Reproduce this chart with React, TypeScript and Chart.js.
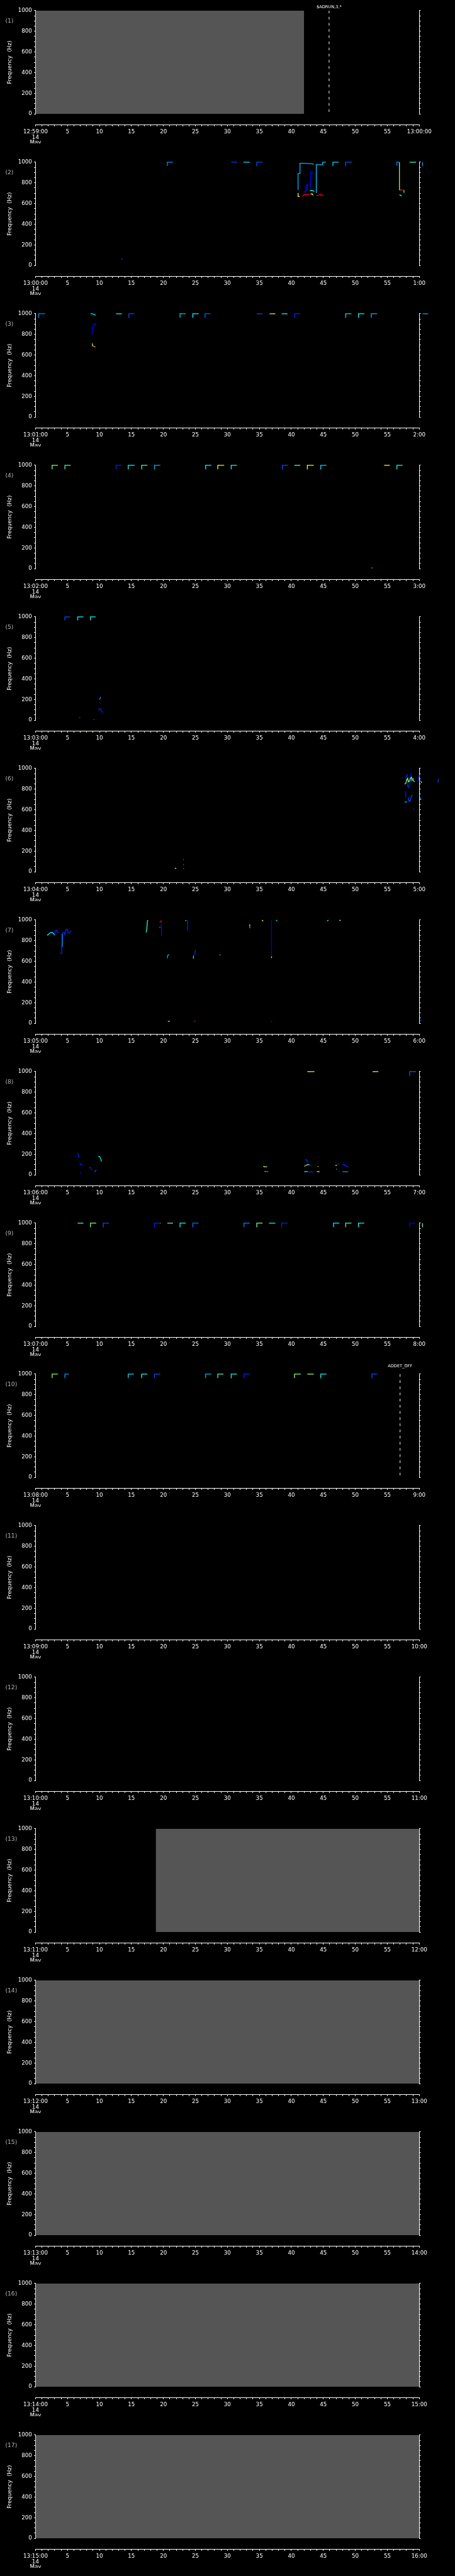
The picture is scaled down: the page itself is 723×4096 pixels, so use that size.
import React, { useEffect, useRef } from 'react';
import { Chart, registerables } from 'chart.js';

Chart.register(...registerables);

// ---------- data ----------
const panelStartLabels = [
  '12:59:00', '13:00:00', '13:01:00', '13:02:00', '13:03:00', '13:04:00', '13:05:00', '13:06:00',
  '13:07:00', '13:08:00', '13:09:00', '13:10:00', '13:11:00', '13:12:00', '13:13:00', '13:14:00', '13:15:00',
];
const panelEndLabels = [
  '13:00:00', '1:00', '2:00', '3:00', '4:00', '5:00', '6:00', '7:00',
  '8:00', '9:00', '10:00', '11:00', '12:00', '13:00', '14:00', '15:00', '16:00',
];
const dateLines = ['14', 'May', '2023'];
const yTitle = 'Frequency  (Hz)';
const freqMin = 0;
const freqMax = 1000;
const secMin = 0;
const secMax = 60;

// [panel, from sec, to sec] : no-data (grey) blocks
const greyBlocks: [number, number, number][] = [
  [1, 0, 42.0],
  [13, 18.8, 60],
  [14, 0, 60],
  [15, 0, 60],
  [16, 0, 60],
  [17, 0, 60],
];

// [panel, sec, label] : event markers
const eventMarks: [number, number, string][] = [
  [1, 45.9, '$ADRUN,3,*'],
  [10, 57.0, 'ADDET_OFF'],
];

// step marks near 1000 Hz : [start sec, end sec, low freq, intensity]
type Step = [number, number, number, number];
const steps2: Step[] = [
  [20.6, 21.5, 964, 0.26], [30.6, 31.5, 1000, 0.18], [32.5, 33.5, 1000, 0.34], [34.6, 35.5, 960, 0.2],
  [46.5, 47.4, 962, 0.34], [48.5, 49.5, 958, 0.2], [58.5, 59.5, 1000, 0.42], [60.5, 61.4, 962, 0.28],
];
const steps3: Step[] = [
  [0.5, 1.5, 961, 0.26], [12.6, 13.5, 1000, 0.38], [14.6, 15.5, 958, 0.2], [22.6, 23.5, 962, 0.32],
  [24.6, 25.5, 962, 0.38], [26.5, 27.4, 958, 0.22], [34.6, 35.5, 1000, 0.2], [36.6, 37.5, 1000, 0.56],
  [38.5, 39.4, 1000, 0.38], [40.5, 41.4, 962, 0.16], [48.5, 49.4, 962, 0.34], [50.5, 51.4, 962, 0.38],
  [52.5, 53.4, 962, 0.3], [60.5, 61.4, 1000, 0.28],
];
const steps4: Step[] = [
  [2.6, 3.5, 962, 0.5], [4.6, 5.5, 962, 0.45], [12.6, 13.5, 958, 0.16], [14.5, 15.5, 962, 0.38],
  [16.6, 17.5, 962, 0.45], [18.6, 19.5, 960, 0.3], [26.6, 27.5, 962, 0.38], [28.5, 29.5, 962, 0.6],
  [30.6, 31.5, 962, 0.38], [38.6, 39.5, 958, 0.2], [40.5, 41.4, 1000, 0.45], [42.5, 43.5, 960, 0.6],
  [44.6, 45.5, 960, 0.34], [54.5, 55.4, 1000, 0.6], [56.5, 57.4, 962, 0.4],
];
const steps5: Step[] = [
  [4.6, 5.4, 967, 0.2], [6.6, 7.5, 967, 0.38], [8.6, 9.4, 967, 0.4],
];
const steps8: Step[] = [
  [42.5, 43.6, 1000, 0.64], [52.7, 53.6, 1000, 0.58], [58.5, 59.5, 958, 0.22],
];
const steps9: Step[] = [
  [6.6, 7.5, 1000, 0.44], [8.6, 9.5, 960, 0.5], [10.6, 11.5, 958, 0.2], [18.6, 19.5, 960, 0.16],
  [20.6, 21.5, 1000, 0.44], [22.6, 23.5, 960, 0.38], [24.6, 25.5, 960, 0.24], [32.6, 33.5, 962, 0.26],
  [34.6, 35.5, 960, 0.5], [36.5, 37.5, 1000, 0.38], [38.5, 39.4, 958, 0.16], [46.6, 47.5, 962, 0.38],
  [48.5, 49.4, 962, 0.44], [50.5, 51.4, 962, 0.38], [58.5, 59.4, 962, 0.12], [60.5, 61.4, 962, 0.44],
];
const steps10: Step[] = [
  [2.6, 3.5, 962, 0.5], [4.6, 5.2, 962, 0.28], [14.5, 15.4, 962, 0.34], [16.6, 17.5, 962, 0.4],
  [18.6, 19.5, 960, 0.2], [26.6, 27.5, 962, 0.3], [28.5, 29.4, 962, 0.44], [30.6, 31.5, 960, 0.38],
  [32.6, 33.5, 960, 0.16], [40.5, 41.5, 962, 0.5], [42.5, 43.5, 1000, 0.52], [44.6, 45.5, 960, 0.38],
  [52.6, 53.4, 960, 0.2],
];

// free traces : [intensity, [[sec, Hz], ...]]
type Trace = [number, [number, number][]];
const traces2: Trace[] = [
  [0.18, [[13.4, 64], [13.6, 64]]],
  [0.3, [[41.0, 735], [41.05, 888], [41.35, 892], [41.35, 990], [41.8, 990], [42.8, 987], [43.4, 983]]],
  [0.62, [[43.4, 983], [43.5, 980]]],
  [0.14, [[41.9, 713], [42.3, 713], [42.3, 781], [42.5, 781], [42.5, 722]]],
  [0.36, [[42.9, 727], [43.2, 727], [43.4, 724], [43.6, 715]]],
  [0.12, [[43.0, 750], [43.0, 905], [43.4, 905]]],
  [0.62, [[41.05, 703], [41.05, 668], [41.3, 668]]],
  [0.88, [[41.7, 668], [41.9, 675], [42.0, 690], [42.2, 690], [42.3, 675], [42.5, 690], [42.7, 690], [42.8, 678]]],
  [0.56, [[43.0, 692], [43.3, 692], [43.4, 678]]],
  [0.88, [[43.9, 678], [44.3, 680], [44.5, 692], [44.6, 680], [45.0, 680]]],
  [0.32, [[43.9, 703], [43.9, 976], [44.9, 976], [44.9, 1000], [45.4, 1000]]],
  [0.26, [[56.5, 964], [56.5, 1000], [56.9, 1000]]],
  [0.5, [[56.9, 1000], [56.9, 730]]],
  [0.85, [[56.9, 730], [57.4, 733]]],
  [0.42, [[57.6, 733], [57.6, 705]]],
  [0.14, [[57.7, 700], [57.8, 698]]],
  [0.45, [[56.9, 685], [57.1, 680], [57.2, 670]]],
];
const traces3: Trace[] = [
  [0.34, [[8.6, 1000], [9.0, 998], [9.3, 990], [9.4, 987]]],
  [0.12, [[8.9, 805], [8.9, 877], [9.1, 877], [9.1, 903], [9.4, 903], [9.4, 877]]],
  [0.52, [[8.9, 713], [8.9, 690], [9.0, 690]]],
  [0.78, [[9.0, 690], [9.2, 680], [9.4, 680]]],
];
const traces4: Trace[] = [
  [0.3, [[52.5, 7], [52.7, 7]]],
];
const traces5: Trace[] = [
  [0.26, [[9.9, 207], [10.1, 207], [10.2, 225]]],
  [0.16, [[9.9, 95], [10.0, 110], [10.2, 110], [10.3, 90], [10.5, 72]]],
  [0.18, [[6.8, 27], [7.0, 27]]],
  [0.15, [[9.0, 6], [9.3, 6]]],
];
const traces6: Trace[] = [
  [0.58, [[21.8, 38], [22.0, 30]]],
  [0.32, [[23.1, 117], [23.2, 117]]],
  [0.32, [[23.1, 67], [23.2, 67]]],
  [0.28, [[23.1, 30], [23.2, 30]]],
  [0.5, [[57.7, 850], [57.9, 855], [58.0, 890], [58.2, 905], [58.3, 870], [58.5, 880], [58.6, 905], [58.8, 915], [58.9, 880]]],
  [0.15, [[57.8, 905], [58.1, 940], [58.2, 830], [58.3, 815], [58.5, 850], [58.7, 940], [58.8, 870]]],
  [0.45, [[59.0, 905], [59.1, 880], [59.3, 870]]],
  [0.15, [[59.8, 880], [60.0, 935], [60.1, 830], [60.2, 880]]],
  [0.4, [[60.2, 880], [60.4, 860], [60.6, 870], [60.8, 885], [61.0, 870], [61.2, 855], [61.5, 860], [61.8, 870], [62.0, 860], [62.2, 855], [62.4, 870], [62.7, 875], [62.9, 870]]],
  [0.18, [[62.9, 865], [63.0, 900], [63.2, 905], [63.2, 880], [63.3, 880], [63.3, 905]]],
  [0.3, [[57.7, 675], [58.0, 675], [58.1, 680]]],
  [0.15, [[57.9, 780], [57.9, 720]]],
  [0.2, [[58.3, 720], [58.4, 680], [58.6, 690], [58.7, 720], [58.8, 735], [59.0, 735]]],
  [0.28, [[60.1, 720], [60.3, 700], [60.6, 685], [60.9, 675], [61.3, 670], [61.5, 668]]],
  [0.15, [[59.0, 606], [59.2, 606]]],
];
const traces7: Trace[] = [
  [0.36, [[1.8, 852], [2.0, 860], [2.2, 872], [2.4, 880], [2.7, 878], [2.9, 860], [3.0, 855]]],
  [0.16, [[3.0, 855], [3.1, 900], [3.4, 900], [3.4, 880], [3.6, 875]]],
  [0.16, [[3.8, 680], [4.1, 677], [4.1, 860], [4.3, 880], [4.5, 880], [4.6, 855], [4.8, 910], [5.0, 912], [5.1, 875], [5.3, 870], [5.4, 885], [5.6, 895]]],
  [0.3, [[4.2, 740], [4.2, 870]]],
  [0.4, [[17.3, 880], [17.4, 910], [17.5, 995]]],
  [0.62, [[17.5, 995], [17.6, 998]]],
  [0.88, [[19.5, 975], [19.5, 995]]],
  [0.14, [[19.6, 955], [19.7, 950], [19.7, 850]]],
  [0.16, [[19.7, 975], [19.7, 1000]]],
  [0.3, [[19.4, 925], [19.5, 935]]],
  [0.38, [[23.4, 995], [23.6, 995]]],
  [0.16, [[23.8, 1000], [23.8, 900]]],
  [0.3, [[20.6, 630], [20.7, 660], [20.9, 665]]],
  [0.36, [[24.7, 625], [24.7, 655]]],
  [0.88, [[24.75, 655], [24.8, 660]]],
  [0.16, [[24.9, 665], [25.0, 700], [25.1, 712]]],
  [0.45, [[28.8, 665], [28.9, 660]]],
  [0.32, [[33.5, 920], [33.5, 945]]],
  [0.64, [[33.5, 945], [33.5, 958]]],
  [0.62, [[35.4, 1000], [35.6, 990]]],
  [0.1, [[36.9, 1000], [36.9, 648]]],
  [0.64, [[36.9, 648], [36.9, 632]]],
  [0.36, [[37.6, 990], [37.8, 1000]]],
  [0.42, [[45.6, 990], [45.8, 1000]]],
  [0.62, [[47.5, 995], [47.7, 998]]],
  [0.68, [[20.7, 20], [21.0, 20]]],
  [0.85, [[24.8, 20], [25.0, 20]]],
  [0.16, [[36.8, 20], [37.0, 20]]],
  [0.25, [[60.1, 27], [60.3, 27]]],
];
const traces8: Trace[] = [
  [0.16, [[6.55, 211], [6.7, 195], [6.8, 165]]],
  [0.16, [[6.9, 115], [7.1, 100], [7.4, 98]]],
  [0.16, [[6.95, 20], [7.1, 20]]],
  [0.16, [[8.4, 72], [8.6, 72], [8.8, 50]]],
  [0.2, [[9.2, 29], [9.5, 47]]],
  [0.36, [[9.8, 180], [10.0, 180], [10.2, 160], [10.3, 130]]],
  [0.55, [[35.6, 85], [35.8, 78], [36.2, 80]]],
  [0.34, [[35.8, 35], [36.0, 32]]],
  [0.82, [[36.0, 32], [36.4, 32]]],
  [0.16, [[42.1, 147], [42.4, 147], [42.5, 125], [42.7, 125]]],
  [0.75, [[42.0, 82], [42.2, 90]]],
  [0.45, [[42.2, 90], [42.4, 97], [42.6, 100], [42.8, 100]]],
  [0.16, [[42.8, 95], [43.2, 93]]],
  [0.36, [[42.0, 32], [42.6, 32]]],
  [0.16, [[42.7, 28], [43.1, 30], [43.4, 30]]],
  [0.7, [[44.1, 85], [44.2, 78]]],
  [0.62, [[44.0, 32], [44.4, 32]]],
  [0.62, [[46.9, 90], [47.1, 95]]],
  [0.16, [[47.2, 100], [47.4, 110], [47.5, 110]]],
  [0.16, [[48.0, 100], [48.3, 100], [48.5, 90], [48.7, 80], [48.9, 80]]],
  [0.38, [[47.0, 55], [47.1, 55]]],
  [0.16, [[47.4, 35], [47.6, 35]]],
  [0.26, [[48.0, 32], [48.5, 30], [48.9, 32]]],
];
const traces9: Trace[] = [
  [0.78, [[19.5, 998], [19.6, 998]]],
];

const stepsByPanel: Record<number, Step[]> = { 2: steps2, 3: steps3, 4: steps4, 5: steps5, 8: steps8, 9: steps9, 10: steps10 };
const tracesByPanel: Record<number, Trace[]> = { 2: traces2, 3: traces3, 4: traces4, 5: traces5, 6: traces6, 7: traces7, 8: traces8, 9: traces9 };

// ---------- layout / style ----------
const S = 0.705;
const WIDTH = 723;
const TOTAL_H = 4096;
const N = 17;
const FONT = '"DejaVu Sans", "Liberation Sans", sans-serif';
const PLOT_TOP = 24 * S;
const PLOT_BOTTOM = 257 * S;
const AXIS_GAP = (281 - 257) * S;
const LEFT_W = 80 * S;
const RIGHT_W = WIDTH - 945 * S;
const X2_H = 30;
const GREY = '#555555';
const eventLabelY: Record<number, number> = { 1: 15.7 * S, 10: 6.7 * S };

function jet(v: number) {
  const c = (x: number) => Math.round(255 * Math.max(0, Math.min(1, x)));
  const r = c(1.5 - Math.abs(4 * v - 3));
  const g = c(1.5 - Math.abs(4 * v - 2));
  const b = c(1.5 - Math.abs(4 * v - 1));
  return `rgb(${r},${g},${b})`;
}

const panelTextPlugin = {
  id: 'panelText',
  afterDraw(chart: any) {
    const idx: number = chart.options.plugins.panelText.idx;
    const ctx = chart.ctx;
    ctx.save();
    ctx.fillStyle = '#b4b4b4';
    ctx.font = `${13 * S}px ${FONT}`;
    ctx.textAlign = 'left';
    ctx.textBaseline = 'middle';
    ctx.fillText(`(${idx})`, 12 * S, 48 * S);
    ctx.fillStyle = '#ffffff';
    ctx.font = `${9.4 * S}px ${FONT}`;
    ctx.textAlign = 'center';
    eventMarks.filter((e) => e[0] === idx).forEach(([, t, label]) => {
      const x = chart.scales.x.getPixelForValue(t);
      ctx.fillText(label, x, eventLabelY[idx] ?? 10);
    });
    ctx.restore();
  },
};

function Panel({ idx, top, height }: { idx: number; top: number; height: number }) {
  const ref = useRef<HTMLCanvasElement>(null);
  useEffect(() => {
    const datasets: any[] = [];
    greyBlocks.filter((b) => b[0] === idx).forEach(([, t0, t1]) => {
      datasets.push({
        data: [{ x: t0, y: freqMax }, { x: t1, y: freqMax }],
        fill: 'start',
        backgroundColor: GREY,
        borderWidth: 0,
        borderColor: 'rgba(0,0,0,0)',
        pointRadius: 0,
        order: 20,
      });
    });
    eventMarks.filter((e) => e[0] === idx).forEach(([, t]) => {
      datasets.push({
        data: [{ x: t, y: freqMax }, { x: t, y: freqMin }],
        borderColor: '#ffffff',
        borderWidth: 1,
        borderDash: [4.2, 5.6],
        pointRadius: 0,
        fill: false,
        order: 5,
      });
    });
    (stepsByPanel[idx] || []).forEach(([t0, t1, fLow, v]) => {
      const pts = fLow < freqMax
        ? [{ x: t0, y: fLow }, { x: t0, y: freqMax }, { x: t1, y: freqMax }]
        : [{ x: t0, y: freqMax }, { x: t1, y: freqMax }];
      datasets.push({
        data: pts, borderColor: jet(v), borderWidth: 1.3, pointRadius: 0, fill: false, clip: false, order: 1,
      });
    });
    (tracesByPanel[idx] || []).forEach(([v, pts]) => {
      datasets.push({
        data: pts.map(([x, y]) => ({ x, y })),
        borderColor: jet(v), borderWidth: 1.3, pointRadius: 0, fill: false, clip: false, order: 1,
      });
    });

    const chart = new Chart(ref.current!, {
      type: 'line',
      data: { datasets },
      plugins: [panelTextPlugin],
      options: {
        animation: false,
        responsive: false,
        devicePixelRatio: 1,
        events: [],
        layout: {
          padding: { top: PLOT_TOP, left: 0, right: 0, bottom: height - PLOT_BOTTOM - AXIS_GAP - X2_H },
        },
        plugins: {
          legend: { display: false },
          tooltip: { enabled: false },
          title: { display: false },
          panelText: { idx },
        } as any,
        elements: { line: { tension: 0 } },
        scales: {
          x: {
            type: 'linear',
            position: 'bottom',
            weight: 0,
            min: secMin,
            max: secMax,
            ticks: { display: false },
            grid: { display: false },
            border: { display: false },
            afterFit: (s: any) => { s.height = AXIS_GAP; },
          },
          x2: {
            type: 'linear',
            position: 'bottom',
            weight: 1,
            min: secMin,
            max: secMax,
            ticks: {
              stepSize: 1,
              autoSkip: false,
              maxRotation: 0,
              minRotation: 0,
              padding: 5,
              color: '#ffffff',
              font: { family: FONT, size: 8.7, lineHeight: 8.5 / 8.7 },
              callback: (value: any) => {
                const v = Math.round(Number(value));
                if (v === secMin) return [panelStartLabels[idx - 1], ...dateLines];
                if (v === secMax) return panelEndLabels[idx - 1];
                return v % 5 === 0 ? String(v) : '';
              },
            },
            grid: { drawOnChartArea: false, drawTicks: true, tickLength: 2.8, color: '#ffffff', lineWidth: 1 },
            border: { display: true, color: '#ffffff', width: 1 },
            afterFit: (s: any) => { s.height = X2_H; },
          },
          y: {
            type: 'linear',
            position: 'left',
            min: freqMin,
            max: freqMax,
            ticks: {
              stepSize: 50,
              autoSkip: false,
              padding: 3.3,
              color: '#ffffff',
              font: { family: FONT, size: 8.7 },
              callback: (value: any) => {
                const v = Math.round(Number(value));
                return v % 200 === 0 ? String(v) : '';
              },
            },
            title: {
              display: true,
              text: yTitle,
              color: '#ffffff',
              font: { family: FONT, size: 8.8 },
              padding: { top: 10.9, bottom: 0 },
            },
            grid: { drawOnChartArea: false, drawTicks: true, tickLength: 2.3, color: '#ffffff', lineWidth: 1 },
            border: { display: true, color: '#ffffff', width: 1 },
            afterFit: (s: any) => { s.width = LEFT_W; },
          },
          y2: {
            type: 'linear',
            position: 'right',
            min: freqMin,
            max: freqMax,
            ticks: { stepSize: 50, autoSkip: false, padding: 0, callback: () => '' },
            grid: { drawOnChartArea: false, drawTicks: true, tickLength: 2.3, color: '#ffffff', lineWidth: 1 },
            border: { display: true, color: '#ffffff', width: 1 },
            afterFit: (s: any) => { s.width = RIGHT_W; },
          },
        } as any,
      },
    } as any);
    return () => chart.destroy();
  }, [idx, height]);

  return (
    <canvas
      ref={ref}
      width={WIDTH}
      height={height}
      style={{ position: 'absolute', left: 0, top, width: WIDTH, height, display: 'block' }}
    />
  );
}

export default function App() {
  const tops = Array.from({ length: N + 1 }, (_, i) => Math.round((i * TOTAL_H) / N));
  return (
    <div style={{ position: 'absolute', left: 0, top: 0, width: WIDTH, height: TOTAL_H, background: '#000', overflow: 'hidden' }}>
      {panelStartLabels.map((_, i) => (
        <Panel key={i} idx={i + 1} top={tops[i]} height={tops[i + 1] - tops[i]} />
      ))}
    </div>
  );
}
